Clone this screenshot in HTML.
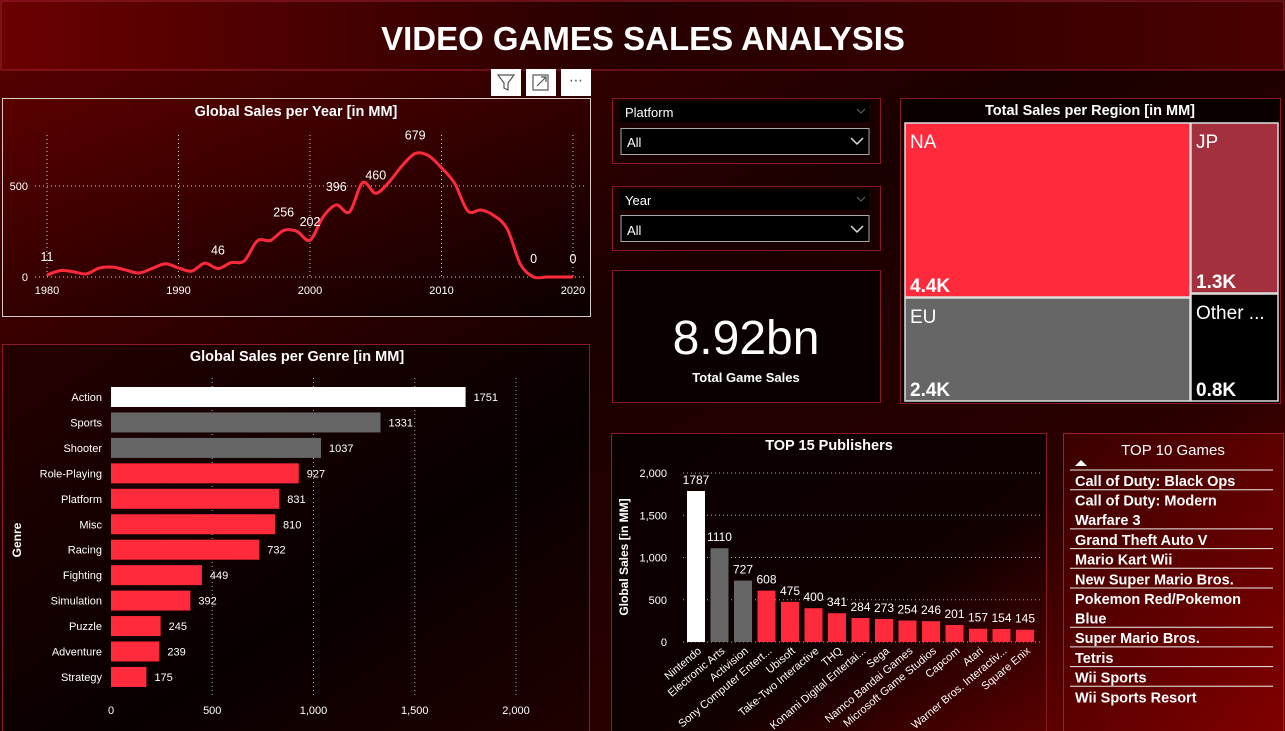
<!DOCTYPE html>
<html><head><meta charset="utf-8">
<style>
html,body{margin:0;padding:0;width:1285px;height:731px;overflow:hidden;background:#000;font-family:"Liberation Sans","DejaVu Sans",sans-serif;}
svg{display:block}
text{font-family:"Liberation Sans","DejaVu Sans",sans-serif;fill:#fff}
</style></head>
<body>
<svg id="s" width="1285" height="731" viewBox="0 0 1285 731">
<defs>
<linearGradient id="bg" x1="0" y1="0" x2="1" y2="1">
<stop offset="0" stop-color="#5a0000"/><stop offset="0.45" stop-color="#1a0000"/><stop offset="0.75" stop-color="#2a0000"/><stop offset="1" stop-color="#7a0000"/></linearGradient>
<linearGradient id="hd" x1="0" y1="0" x2="1" y2="0">
<stop offset="0" stop-color="#6a0000"/><stop offset="0.5" stop-color="#250000"/><stop offset="1" stop-color="#4a0000"/></linearGradient>
<linearGradient id="p1" x1="0" y1="0" x2="1" y2="1">
<stop offset="0" stop-color="#5a0000"/><stop offset="1" stop-color="#0a0000"/></linearGradient>
<linearGradient id="p2" x1="0" y1="0" x2="1" y2="1">
<stop offset="0" stop-color="#250000"/><stop offset="0.6" stop-color="#080000"/><stop offset="1" stop-color="#200000"/></linearGradient>
<linearGradient id="p3" x1="0" y1="0" x2="1" y2="1">
<stop offset="0" stop-color="#0a0000"/><stop offset="0.6" stop-color="#100000"/><stop offset="1" stop-color="#5a0000"/></linearGradient>
<linearGradient id="p4" x1="0" y1="0" x2="1" y2="1">
<stop offset="0" stop-color="#3a0000"/><stop offset="1" stop-color="#800000"/></linearGradient>
</defs>
<rect width="1285" height="731" fill="url(#bg)"/>
<rect x="1" y="1" width="1283" height="69" fill="url(#hd)" stroke="#a02030"/>
<text x="643" y="50" text-anchor="middle" font-size="33" font-weight="bold">VIDEO GAMES SALES ANALYSIS</text>

<g>
<rect x="491" y="69" width="30" height="27" fill="#fff"/>
<path d="M498 75 h16 l-6 8 v7 l-4 -2 v-5 z" fill="none" stroke="#555" stroke-width="1.2"/>
<rect x="526" y="69" width="30" height="27" fill="#fff"/>
<rect x="533" y="75" width="15" height="15" fill="none" stroke="#555" stroke-width="1.2"/>
<path d="M537 86 l9 -9 M541 77 h5 v5" fill="none" stroke="#555" stroke-width="1.2"/>
<rect x="561" y="69" width="30" height="27" fill="#fff"/>
<text x="576" y="85" text-anchor="middle" font-size="14" style="fill:#555">⋯</text>
</g>

<rect x="2.5" y="98.5" width="588" height="218" fill="url(#p1)" stroke="#d8c8c8"/>
<text x="296" y="116" text-anchor="middle" font-size="14.5" font-weight="bold">Global Sales per Year [in MM]</text>
<g id="lineG"></g>

<rect x="2.5" y="344.5" width="587" height="390" fill="url(#p2)" stroke="#8a1a25"/>
<text x="297" y="361" text-anchor="middle" font-size="14.5" font-weight="bold">Global Sales per Genre [in MM]</text>
<text transform="translate(21,540) rotate(-90)" text-anchor="middle" font-size="12" font-weight="bold">Genre</text>
<g id="genreG"></g>

<g>
<rect x="612.5" y="98.5" width="268" height="65" fill="#1a0000" stroke="#8a1a25"/>
<rect x="619" y="101" width="250" height="21" fill="#000"/>
<text x="625" y="117" font-size="13">Platform</text>
<path d="M857 109 l4 4 l4 -4" fill="none" stroke="#666"/>
<rect x="621" y="128.5" width="248" height="26" fill="#000" stroke="#aaa"/>
<text x="627" y="147" font-size="13">All</text>
<path d="M851 138 l6 6 l6 -6" fill="none" stroke="#ddd" stroke-width="1.5"/>
</g>
<g>
<rect x="612.5" y="186.5" width="268" height="64" fill="#1a0000" stroke="#8a1a25"/>
<rect x="619" y="189" width="250" height="21" fill="#000"/>
<text x="625" y="205" font-size="13">Year</text>
<path d="M857 197 l4 4 l4 -4" fill="none" stroke="#666"/>
<rect x="621" y="215.5" width="248" height="26" fill="#000" stroke="#aaa"/>
<text x="627" y="235" font-size="13">All</text>
<path d="M851 226 l6 6 l6 -6" fill="none" stroke="#ddd" stroke-width="1.5"/>
</g>

<rect x="612.5" y="270.5" width="268" height="132" fill="#0a0000" stroke="#8a1a25"/>
<text x="746" y="354" text-anchor="middle" font-size="48">8.92bn</text>
<text x="746" y="382" text-anchor="middle" font-size="13" font-weight="bold">Total Game Sales</text>

<rect x="900.5" y="98.5" width="380" height="305" fill="#0a0000" stroke="#8a1a25"/>
<text x="1090" y="115" text-anchor="middle" font-size="14.5" font-weight="bold">Total Sales per Region [in MM]</text>
<g id="treeG"></g>

<rect x="611.5" y="433.5" width="435" height="300" fill="url(#p3)" stroke="#8a1a25"/>
<text x="829" y="450" text-anchor="middle" font-size="14.5" font-weight="bold">TOP 15 Publishers</text>
<text transform="translate(628,557) rotate(-90)" text-anchor="middle" font-size="12" font-weight="bold">Global Sales [in MM]</text>
<g id="pubG"></g>

<rect x="1063.5" y="433.5" width="220" height="300" fill="url(#p4)" stroke="#a02030"/>
<text x="1173" y="455" text-anchor="middle" font-size="15">TOP 10 Games</text>
<path d="M1075 466 l6 -6 l6 6 z" fill="#fff"/>
<g id="gamesG"></g>
</svg>

<script>
const NS="http://www.w3.org/2000/svg";
function mk(tag,attrs,parent,txt){const e=document.createElementNS(NS,tag);for(const k in attrs)e.setAttribute(k,attrs[k]);if(txt!==undefined)e.textContent=txt;parent.appendChild(e);return e;}

const years=[1980,1981,1982,1983,1984,1985,1986,1987,1988,1989,1990,1991,1992,1993,1994,1995,1996,1997,1998,1999,2000,2001,2002,2003,2004,2005,2006,2007,2008,2009,2010,2011,2012,2013,2014,2015,2016,2017,2018,2019,2020];
const yearSales=[11,35,29,17,50,54,38,22,47,73,50,32,76,46,79,88,199,201,256,251,202,331,396,357,519,460,521,611,679,667,600,515,363,368,337,264,70,0,0,0,0];
const yearLabelYears=[1980,1993,1998,2000,2002,2005,2008,2017,2020];
const yearTicks=[1980,1990,2000,2010,2020];
const yearValTicks=[0,500];

const lx=y=>47+(y-1980)*(573-47)/40;
const ly=v=>277-v*(91/500);
const lg=document.getElementById('lineG');
yearTicks.forEach(t=>{
  const l=mk('line',{x1:lx(t),x2:lx(t),y1:135,y2:277,stroke:'#ccc','stroke-dasharray':'1 3'},lg);
  
  
  const tx=mk('text',{x:lx(t),y:294,'text-anchor':'middle','font-size':11},lg,t);
  
  
});
yearValTicks.forEach(t=>{
  const l=mk('line',{x1:35,x2:585,y1:ly(t),y2:ly(t),stroke:'#ccc','stroke-dasharray':'1 3'},lg);
  
  
  const tx=mk('text',{x:28,y:ly(t)+4,'text-anchor':'end','font-size':11},lg,t);
  
  
});
const pts=years.map((y,i)=>[lx(y),ly(yearSales[i])]);
let d='M'+pts[0][0]+' '+pts[0][1];
for(let i=0;i<pts.length-1;i++){
  const p0=pts[Math.max(0,i-1)],p1=pts[i],p2=pts[i+1],p3=pts[Math.min(pts.length-1,i+2)];
  const t=0.16;
  d+=` C${p1[0]+(p2[0]-p0[0])*t} ${p1[1]+(p2[1]-p0[1])*t} ${p2[0]-(p3[0]-p1[0])*t} ${p2[1]-(p3[1]-p1[1])*t} ${p2[0]} ${p2[1]}`;
}
const line=mk('path',{d:d,fill:'none',stroke:'#ff2a3c','stroke-width':3,'stroke-linejoin':'round'},lg);


yearLabelYears.forEach(y=>{
  const v=yearSales[years.indexOf(y)];
  const tx=mk('text',{x:lx(y),y:ly(v)-14,'text-anchor':'middle','font-size':12.5},lg,v);
  
  
});

const genres=['Action','Sports','Shooter','Role-Playing','Platform','Misc','Racing','Fighting','Simulation','Puzzle','Adventure','Strategy'];
const genreSales=[1751,1331,1037,927,831,810,732,449,392,245,239,175];
const genreColors=['#ffffff','#666666','#666666','#ff2a3c','#ff2a3c','#ff2a3c','#ff2a3c','#ff2a3c','#ff2a3c','#ff2a3c','#ff2a3c','#ff2a3c'];
const genreTicks=[0,500,1000,1500,2000];
const gx=v=>111+v*(405/2000);
const gy=i=>397+i*25.45;
const gg=document.getElementById('genreG');
genreTicks.forEach(t=>{
  if(t>0){const l=mk('line',{x1:gx(t),x2:gx(t),y1:378,y2:695,stroke:'#aaa','stroke-dasharray':'1 3'},gg);
  
  }
  const tx=mk('text',{x:gx(t),y:714,'text-anchor':'middle','font-size':11},gg,t.toLocaleString('en-US'));
  
  
});
genres.forEach((g,i)=>{
  const b=mk('rect',{x:gx(0),y:gy(i)-10,width:gx(genreSales[i])-gx(0),height:20,fill:genreColors[i]},gg);
  
  
  const c=mk('text',{x:102,y:gy(i)+4,'text-anchor':'end','font-size':11},gg,g);
  
  
  const v=mk('text',{x:gx(genreSales[i])+8,y:gy(i)+4,'font-size':11},gg,genreSales[i]);
  
  
});

const regions=['NA','JP','EU','Other ...'];
const regionLabels=['4.4K','1.3K','2.4K','0.8K'];
const regionColors=['#ff2a3c','#a3303c','#666666','#000000'];
const tg=document.getElementById('treeG');
const boxes=[[905,123,285,174],[1191,123,87,170],[905,298,285,103],[1191,294,87,107]];
boxes.forEach((b,i)=>{
  const r=mk('rect',{x:b[0],y:b[1],width:b[2],height:b[3],fill:regionColors[i],stroke:'#ddd','stroke-width':1.5},tg);
  
  
  const t=mk('text',{x:b[0]+5,y:b[1]+25,'font-size':19},tg,regions[i]);
  
  
  const v=mk('text',{x:b[0]+5,y:b[1]+b[3]-5,'font-size':19,'font-weight':'bold'},tg,regionLabels[i]);
  
  
});

const publishers=['Nintendo','Electronic Arts','Activision','Sony Computer Entert...','Ubisoft','Take-Two Interactive','THQ','Konami Digital Entertai...','Sega','Namco Bandai Games','Microsoft Game Studios','Capcom','Atari','Warner Bros. Interactiv...','Square Enix'];
const pubSales=[1787,1110,727,608,475,400,341,284,273,254,246,201,157,154,145];
const pubColors=['#ffffff','#666666','#666666','#ff2a3c','#ff2a3c','#ff2a3c','#ff2a3c','#ff2a3c','#ff2a3c','#ff2a3c','#ff2a3c','#ff2a3c','#ff2a3c','#ff2a3c','#ff2a3c'];
const pubTicks=[0,500,1000,1500,2000];
const py=v=>642-v*(169/2000);
const px=i=>696+i*23.5;
const pg=document.getElementById('pubG');
pubTicks.forEach(t=>{
  const l=mk('line',{x1:683,x2:1040,y1:py(t),y2:py(t),stroke:'#aaa','stroke-dasharray':'1 3'},pg);
  
  
  const tx=mk('text',{x:667,y:py(t)+4,'text-anchor':'end','font-size':11},pg,t.toLocaleString('en-US'));
  
  
});
publishers.forEach((p,i)=>{
  const b=mk('rect',{x:px(i)-9,y:py(pubSales[i]),width:18,height:py(0)-py(pubSales[i]),fill:pubColors[i]},pg);
  
  
  const v=mk('text',{x:px(i),y:py(pubSales[i])-7,'text-anchor':'middle','font-size':12},pg,pubSales[i]);
  
  
  const c=mk('text',{transform:`translate(${px(i)+6},${652}) rotate(-40)`,'text-anchor':'end','font-size':11},pg,p);
  
  
});

const games=[['Call of Duty: Black Ops'],['Call of Duty: Modern','Warfare 3'],['Grand Theft Auto V'],['Mario Kart Wii'],['New Super Mario Bros.'],['Pokemon Red/Pokemon','Blue'],['Super Mario Bros.'],['Tetris'],['Wii Sports'],['Wii Sports Resort']];
const gmg=document.getElementById('gamesG');
let yy=470;
games.forEach((g,i)=>{
  const l=mk('line',{x1:1070,x2:1273,y1:yy,y2:yy,stroke:'#eee','stroke-width':1},gmg);
  
  
  g.forEach((ln,j)=>{
    const t=mk('text',{x:1075,y:yy+16+j*19.5,'font-size':14.5,'font-weight':'bold'},gmg,ln);
    
    
  });
  yy+=g.length*19.5+0.2;
});
</script>
</body></html>
